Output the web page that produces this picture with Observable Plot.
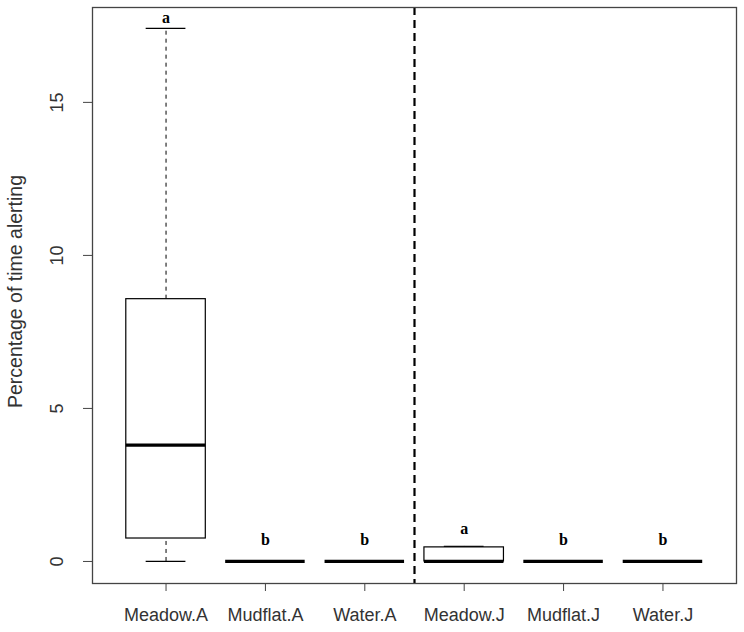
<!DOCTYPE html>
<html>
<head>
<meta charset="utf-8">
<script src="https://cdn.jsdelivr.net/npm/d3@7"></script>
<script src="https://cdn.jsdelivr.net/npm/@observablehq/plot@0.6"></script>
<style>
  html, body { margin: 0; padding: 0; background: #fff; }
  #chart svg { display: block; }
</style>
</head>
<body>
<div id="chart"></div>
<script>
// Data
const categories = ["Meadow.A", "Mudflat.A", "Water.A", "Meadow.J", "Mudflat.J", "Water.J"];
const minVals    = [0,     0, 0, 0,    0, 0];
const q1Vals     = [0.75,  0, 0, 0,    0, 0];
const medianVals = [3.8,   0, 0, 0,    0, 0];
const q3Vals     = [8.57,  0, 0, 0.46, 0, 0];
const maxVals    = [17.42, 0, 0, 0.49, 0, 0];
const letters    = ["a", "b", "b", "a", "b", "b"];
const letterVals = [17.75, 0.7, 0.7, 1.08, 0.7, 0.7];
const yTicks = [0, 5, 10, 15];
const yLabel = "Percentage of time alerting";
const separatorAt = 3.5;

const boxes = categories.map((c, i) => ({
  pos: i + 1, name: c,
  min: minVals[i], q1: q1Vals[i], median: medianVals[i], q3: q3Vals[i], max: maxVals[i],
  letter: letters[i], letterY: letterVals[i]
}));

const sans = "'Liberation Sans', Arial, sans-serif";

const chart = Plot.plot({
  width: 744,
  height: 632,
  marginLeft: 92,
  marginRight: 8,
  marginTop: 7,
  marginBottom: 49,
  style: { fontFamily: sans, fontSize: "18px", color: "#333", background: "#fff" },
  x: { type: "linear", domain: [0.26, 6.74], axis: null },
  y: { domain: [-0.72, 18.1], axis: null },
  marks: [
    // whiskers (dashed)
    Plot.ruleX(boxes, { x: "pos", y1: "q3", y2: "max", stroke: "#000", strokeWidth: 1, strokeDasharray: "4,4" }),
    Plot.ruleX(boxes, { x: "pos", y1: "min", y2: "q1", stroke: "#000", strokeWidth: 1, strokeDasharray: "4,4" }),
    // whisker caps
    Plot.ruleY(boxes, { y: "max", x1: d => d.pos - 0.2, x2: d => d.pos + 0.2, stroke: "#000", strokeWidth: 1.2 }),
    Plot.ruleY(boxes, { y: "min", x1: d => d.pos - 0.2, x2: d => d.pos + 0.2, stroke: "#000", strokeWidth: 1.2 }),
    // boxes
    Plot.rect(boxes, { x1: d => d.pos - 0.4, x2: d => d.pos + 0.4, y1: "q1", y2: "q3", fill: "#fff", stroke: "#000", strokeWidth: 1.2 }),
    // medians
    Plot.ruleY(boxes, { y: "median", x1: d => d.pos - 0.4, x2: d => d.pos + 0.4, stroke: "#000", strokeWidth: 3.2 }),
    // significance letters
    Plot.text(boxes, { x: "pos", y: "letterY", text: "letter", fontFamily: "'Liberation Serif', 'DejaVu Serif', serif", fontWeight: "bold", fontSize: 16, fill: "#000" }),
    // separator
    Plot.ruleX([separatorAt], { stroke: "#000", strokeWidth: 2.2, strokeDasharray: "8,5" }),
    // axes
    Plot.axisX({ ticks: d3.range(1, categories.length + 1), tickFormat: d => categories[d - 1], tickSize: 8, tickPadding: 17, stroke: "#444", fill: "#333", fontSize: 18, label: null }),
    Plot.axisY({ ticks: yTicks, tickSize: 9, tickFormat: () => "", stroke: "#444", label: null }),
    Plot.text(yTicks, { y: d => d, text: d => String(d), frameAnchor: "left", textAnchor: "middle", dx: -35, rotate: -90, fontSize: 18, fill: "#333" }),
    Plot.text([yLabel], { text: d => d, frameAnchor: "left", textAnchor: "middle", dx: -77, dy: -4, rotate: -90, fontSize: 19.5, fill: "#333" }),
    Plot.frame({ stroke: "#444", strokeWidth: 1.3 })
  ]
});

document.getElementById("chart").appendChild(chart);
</script>
</body>
</html>
